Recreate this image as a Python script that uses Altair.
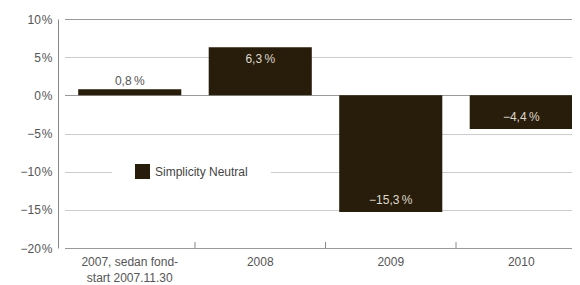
import altair as alt
import pandas as pd

categories = ["2007, sedan fond-|start 2007.11.30", "2008", "2009", "2010"]
values = [0.8, 6.3, -15.3, -4.4]
series = ["Simplicity Neutral"] * 4
y_ticks = [-20, -15, -10, -5, 0, 5, 10]

df = pd.DataFrame({"cat": categories, "value": values, "series": series})

W, H = 514, 229
BAR = "#281c0a"
TXT = "#555555"

x_enc = alt.X(
    "cat:N", sort=categories, title=None,
    scale=alt.Scale(range=[6.5, 528.5], paddingInner=0, paddingOuter=0),
    axis=alt.Axis(labelAngle=0, ticks=False, domain=False, labelPadding=8,
                  labelExpr="split(datum.label, '|')", labelLineHeight=16,
                  labelColor=TXT, labelFontSize=12, grid=False, labelLimit=300),
)
y_enc = alt.Y(
    "value:Q", title=None,
    scale=alt.Scale(domain=[-20, 10], nice=False),
    axis=alt.Axis(values=y_ticks, ticks=False, labelPadding=6, domainColor="#888888",
                  labelOverlap=False,
                  gridColor=alt.condition("datum.value == 0 || datum.value == 10 || datum.value == -20",
                                          alt.value("#999999"), alt.value("#cccccc")),
                  labelExpr="replace(format(datum.value, 'd'), '-', '–') + '\u200a%'",
                  labelColor=TXT, labelFontSize=12),
)

base = alt.Chart(df).transform_calculate(
    label="replace(replace(format(datum.value, '.1f'), '.', ','), '-', '–') + '\u2009%'"
)

bars = base.mark_bar(width=alt.RelativeBandSize(0.79)).encode(
    x=x_enc, y=y_enc,
    color=alt.Color("series:N", scale=alt.Scale(domain=["Simplicity Neutral"], range=[BAR]),
                    legend=alt.Legend(title=None, orient="none", legendX=54, legendY=122,
                                      fillColor="white", padding=23, symbolType="square",
                                      symbolSize=225, symbolStrokeWidth=0, labelFontSize=12,
                                      labelColor="#444444", labelOffset=5,
                                      labelExpr="datum.label + '\u2003\u2003\u2002'")),
)

text_out = base.transform_filter("datum.value >= 0 && datum.value < 2").mark_text(
    dy=-8, baseline="middle", fontSize=12, color=TXT
).encode(x=x_enc, y=y_enc, text="label:N")

text_top = base.transform_filter("datum.value >= 2").mark_text(
    dy=12, baseline="middle", fontSize=12, color="#ddd8cc"
).encode(x=x_enc, y=y_enc, text="label:N")

text_bot = base.transform_filter("datum.value < 0").mark_text(
    dy=-12, baseline="middle", fontSize=12, color="#ddd8cc"
).encode(x=x_enc, y=y_enc, text="label:N")

ticks = base.mark_rule(color="#888888").encode(
    x=alt.X("cat:N", sort=categories, bandPosition=1),
    y=alt.value(H), y2=alt.value(H - 6),
)

chart = alt.layer(bars, text_out, text_top, text_bot, ticks).properties(
    width=W, height=H,
    autosize=alt.AutoSizeParams(type="none"),
    padding={"left": 50, "top": 11, "right": 0, "bottom": 37},
).configure(font="Liberation Sans").configure_view(stroke=None).configure_axisY(labelOverlap=False)

chart.save("out.html", embed_options={"renderer": "svg", "actions": False})
